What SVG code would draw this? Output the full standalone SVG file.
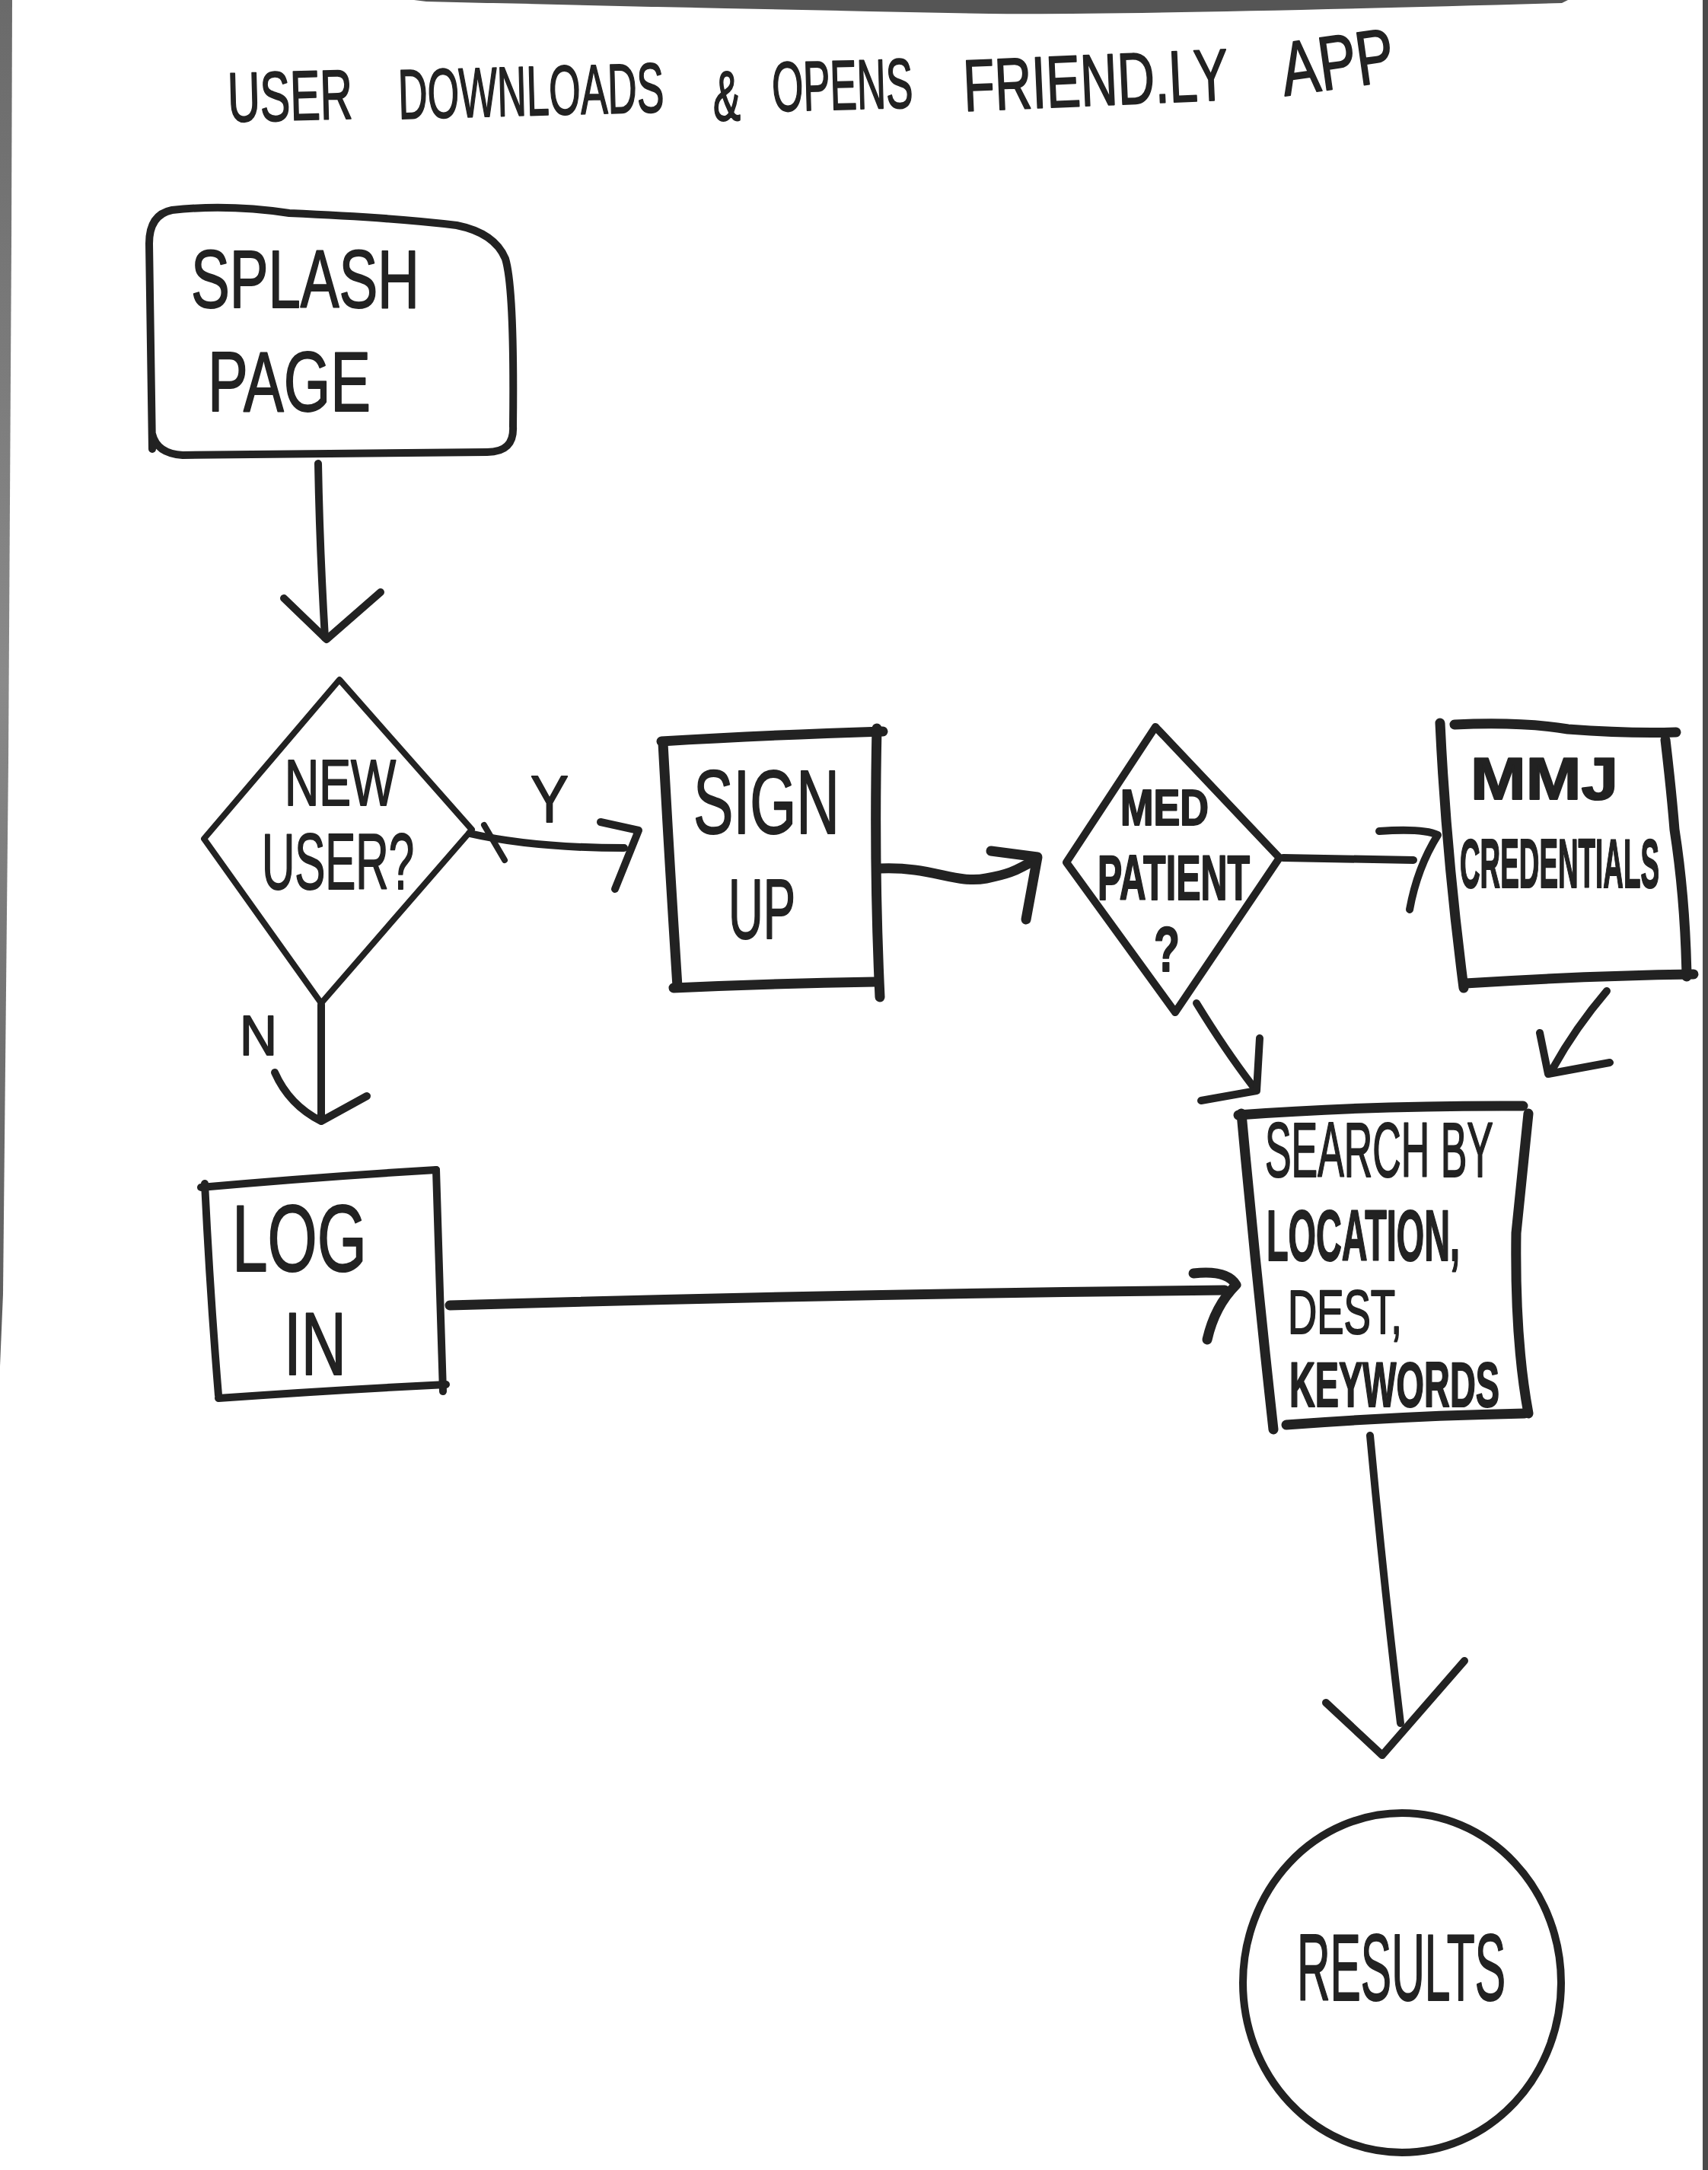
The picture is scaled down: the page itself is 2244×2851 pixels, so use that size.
<svg xmlns="http://www.w3.org/2000/svg" width="2244" height="2851" viewBox="0 0 2244 2851">
<defs>
<linearGradient id="edgeL" x1="0" y1="0" x2="0" y2="1">
<stop offset="0" stop-color="#6a6a6a"/>
<stop offset="0.5" stop-color="#8a8a8a"/>
<stop offset="1" stop-color="#5a5a5a"/>
</linearGradient>
</defs>
<style>
.ln{fill:none;stroke:#222;stroke-width:10;stroke-linecap:round;stroke-linejoin:round}
.th{stroke-width:13}
.tn{stroke-width:8}
.t{font-family:"Liberation Sans",Arial,sans-serif;fill:#222;stroke:#222;stroke-width:2;stroke-linejoin:round}
.b{font-weight:bold}
</style>
<rect x="0" y="0" width="2244" height="2851" fill="#ffffff"/>
<path d="M0,0 L16,0 L15,320 L11,1000 L4,1700 L0,1795 Z" fill="url(#edgeL)"/>
<rect x="2237" y="0" width="7" height="2851" fill="#4a4a4a"/>
<path d="M544,0 L2060,0 L2052,4 Q1500,20 1300,18 Q900,10 560,2 Z" fill="#555"/>

<g id="title">
<text class="t" x="300" y="160" font-size="92" textLength="164" lengthAdjust="spacingAndGlyphs" transform="rotate(-1.5 300 160)">USER</text>
<text class="t" x="524" y="156" font-size="92" textLength="349" lengthAdjust="spacingAndGlyphs" transform="rotate(-1.5 524 156)">DOWNLOADS</text>
<text class="t" x="937" y="158" font-size="92" textLength="36" lengthAdjust="spacingAndGlyphs">&amp;</text>
<text class="t" x="1015" y="146" font-size="92" textLength="185" lengthAdjust="spacingAndGlyphs" transform="rotate(-1.5 1015 146)">OPENS</text>
<text class="t" x="1267" y="146" font-size="96" textLength="348" lengthAdjust="spacingAndGlyphs" transform="rotate(-2.5 1267 146)">FRIEND.LY</text>
<text class="t" x="1688" y="126" font-size="100" textLength="149" lengthAdjust="spacingAndGlyphs" transform="rotate(-8 1688 126)">APP</text>
</g>

<g id="splash">
<path class="ln" d="M200,590 L196,320 Q196,282 226,276 Q300,268 380,280 Q520,286 600,296 Q650,306 664,340 Q676,380 674,560 Q676,594 640,594 L240,598 Q206,596 200,570"/>
<text class="t" x="251" y="404" font-size="107" textLength="300" lengthAdjust="spacingAndGlyphs">SPLASH</text>
<text class="t" x="273" y="540" font-size="112" textLength="214" lengthAdjust="spacingAndGlyphs">PAGE</text>
</g>

<g id="new-user">
<path class="ln tn" d="M446,893 L620,1090 L422,1318 L268,1102 Z"/>
<text class="t" x="374" y="1058" font-size="86" textLength="146" lengthAdjust="spacingAndGlyphs">NEW</text>
<text class="t" x="344" y="1168" font-size="104" textLength="200" lengthAdjust="spacingAndGlyphs">USER?</text>
</g>

<g id="sign-up">
<path class="ln th" d="M869,974 Q1000,966 1160,961"/>
<path class="ln th" d="M871,976 Q880,1140 890,1296"/>
<path class="ln th" d="M1152,957 Q1148,1140 1156,1310"/>
<path class="ln th" d="M885,1298 Q1020,1292 1149,1290"/>
<text class="t" x="911" y="1095" font-size="118" textLength="192" lengthAdjust="spacingAndGlyphs">SIGN</text>
<text class="t" x="957" y="1233" font-size="112" textLength="88" lengthAdjust="spacingAndGlyphs">UP</text>
</g>

<g id="med-patient">
<path class="ln" d="M1518,955 L1681,1127 L1544,1330 L1401,1133 Z"/>
<text class="t b" x="1472" y="1084" font-size="66" textLength="116" lengthAdjust="spacingAndGlyphs">MED</text>
<text class="t b" x="1442" y="1182" font-size="84" textLength="200" lengthAdjust="spacingAndGlyphs">PATIENT</text>
<text class="t b" x="1516" y="1276" font-size="84" textLength="34" lengthAdjust="spacingAndGlyphs">?</text>
</g>

<g id="mmj-credentials">
<path class="ln th" d="M1892,950 Q1900,1120 1923,1298"/>
<path class="ln th" d="M1911,952 Q2000,948 2060,958 Q2140,964 2202,962"/>
<path class="ln th" d="M2188,972 Q2196,1040 2200,1090 Q2214,1180 2216,1283"/>
<path class="ln th" d="M1925,1292 Q2080,1282 2225,1280"/>
<text class="t b" x="1932" y="1050" font-size="78" textLength="194" lengthAdjust="spacingAndGlyphs">MMJ</text>
<text class="t b" x="1918" y="1166" font-size="90" textLength="262" lengthAdjust="spacingAndGlyphs">CREDENTIALS</text>
</g>

<g id="log-in">
<path class="ln" d="M264,1560 Q420,1546 573,1537"/>
<path class="ln" d="M269,1555 Q276,1700 287,1833"/>
<path class="ln" d="M573,1537 Q578,1680 582,1828"/>
<path class="ln" d="M287,1837 Q440,1826 586,1819"/>
<text class="t" x="305" y="1670" font-size="124" textLength="177" lengthAdjust="spacingAndGlyphs">LOG</text>
<text class="t" x="373" y="1806" font-size="116" textLength="82" lengthAdjust="spacingAndGlyphs">IN</text>
</g>

<g id="search">
<path class="ln th" d="M1627,1465 Q1800,1452 2001,1453"/>
<path class="ln th" d="M1631,1463 Q1650,1670 1673,1878"/>
<path class="ln th" d="M2008,1463 Q1998,1560 1992,1620 Q1990,1760 2008,1857"/>
<path class="ln th" d="M1690,1872 Q1850,1860 2003,1857"/>
<text class="t" x="1662" y="1546" font-size="102" textLength="300" lengthAdjust="spacingAndGlyphs">SEARCH BY</text>
<text class="t b" x="1664" y="1656" font-size="94" textLength="254" lengthAdjust="spacingAndGlyphs">LOCATION,</text>
<text class="t" x="1692" y="1752" font-size="82" textLength="150" lengthAdjust="spacingAndGlyphs">DEST,</text>
<text class="t b" x="1694" y="1848" font-size="84" textLength="276" lengthAdjust="spacingAndGlyphs">KEYWORDS</text>
</g>

<g id="results">
<ellipse class="ln" cx="1842" cy="2605" rx="209" ry="223"/>
<text class="t" x="1704" y="2628" font-size="124" textLength="274" lengthAdjust="spacingAndGlyphs">RESULTS</text>
</g>

<g id="connectors">
<path class="ln" d="M418,609 Q420,720 427,838"/>
<path class="ln" d="M373,786 L429,840 L500,778"/>

<path class="ln" d="M617,1095 Q700,1114 820,1114"/>
<path class="ln tn" d="M636,1084 L663,1130"/>
<path class="ln" d="M789,1080 L839,1091 L808,1168"/>
<text class="t" x="697" y="1080" font-size="88" textLength="50" lengthAdjust="spacingAndGlyphs">Y</text>

<path class="ln" d="M422,1320 L422,1470"/>
<path class="ln" d="M361,1409 Q380,1452 422,1473 L482,1440"/>
<text class="t" x="315" y="1386" font-size="74" textLength="49" lengthAdjust="spacingAndGlyphs">N</text>

<path class="ln th" d="M1156,1141 C1225,1138 1255,1162 1296,1154 S1338,1140 1355,1133"/>
<path class="ln th" d="M1302,1118 L1363,1126 L1348,1208"/>

<path class="ln" d="M1686,1127 L1857,1130"/>
<path class="ln" d="M1812,1092 Q1870,1088 1889,1097 Q1862,1140 1852,1195"/>

<path class="ln" d="M1572,1318 Q1610,1380 1646,1427"/>
<path class="ln" d="M1655,1364 L1651,1433 L1578,1446"/>

<path class="ln" d="M2111,1302 Q2070,1350 2040,1404"/>
<path class="ln" d="M2023,1357 L2034,1411 L2115,1396"/>

<path class="ln th" d="M591,1715 Q1100,1700 1609,1695"/>
<path class="ln th" d="M1568,1673 Q1612,1668 1624,1688 Q1596,1716 1586,1760"/>

<path class="ln" d="M1800,1886 Q1818,2080 1840,2264"/>
<path class="ln" d="M1742,2237 L1816,2306 L1924,2182"/>
</g>
</svg>
